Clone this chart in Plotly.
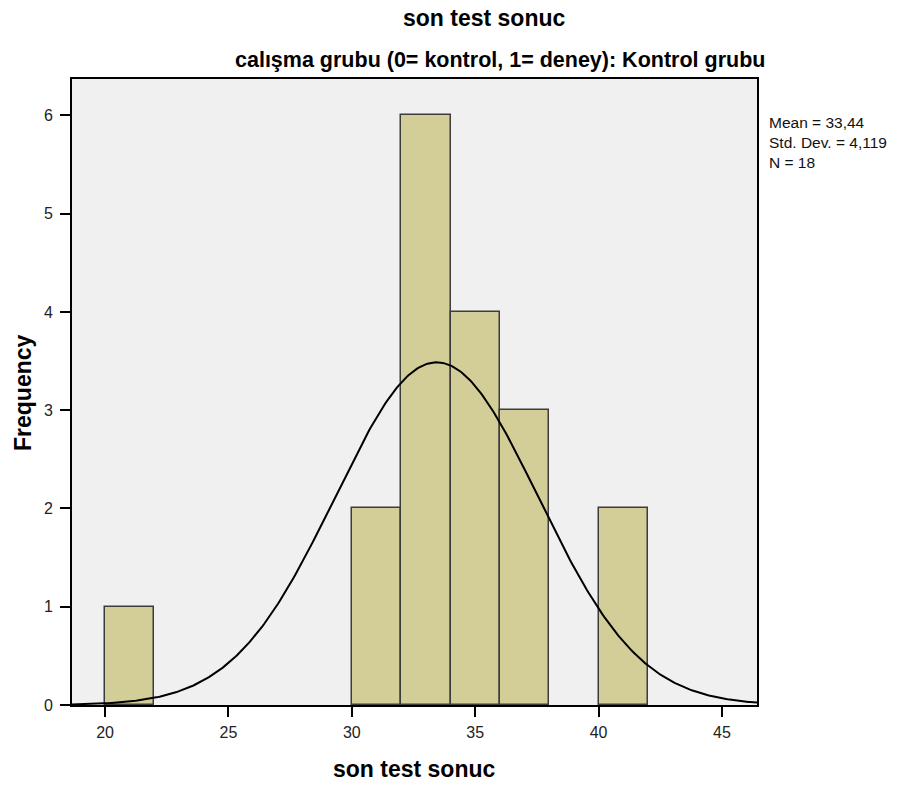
import numpy as np
import plotly.graph_objects as go

# Data
bin_starts = [20, 30, 32, 34, 36, 40]
bin_width = 2
counts = [1, 2, 6, 4, 3, 2]
mean_val = 33.44
std_val = 4.119
n_val = 18
x_ticks = [20, 25, 30, 35, 40, 45]
y_ticks = [0, 1, 2, 3, 4, 5, 6]
x_range = [18.66, 46.42]
y_range = [0, 6.37]

centers = [b + bin_width / 2 for b in bin_starts]

# fitted normal curve (SPSS "display normal curve")
xs = np.linspace(x_range[0], x_range[1], 400)
ys = n_val * bin_width / (std_val * np.sqrt(2 * np.pi)) * np.exp(-0.5 * ((xs - mean_val) / std_val) ** 2)

font = "Liberation Sans, Arial, sans-serif"
W, H = 910, 787
L, R, T, B = 72, 153, 79, 82
PW, PH = W - L - R, H - T - B


def px(xp):
    return (xp - L) / PW


def py(yp):
    return 1 - (yp - T) / PH


fig = go.Figure()
fig.add_trace(go.Bar(
    x=centers, y=counts, width=[bin_width] * len(centers),
    marker=dict(color="#D3CE97", line=dict(color="#3c3c3c", width=1.5)),
    hoverinfo="skip", showlegend=False,
))
fig.add_trace(go.Scatter(
    x=xs, y=ys, mode="lines", line=dict(color="black", width=2),
    hoverinfo="skip", showlegend=False,
))

fig.update_layout(
    width=W, height=H,
    margin=dict(l=L, r=R, t=T, b=B, autoexpand=False),
    paper_bgcolor="white", plot_bgcolor="#F0F0F0",
    font=dict(family=font, color="black", size=16),
    bargap=0,
)

fig.add_annotation(text="<b>son test sonuc</b>", xref="paper", yref="paper",
                   x=px(485), y=py(18), xanchor="center", yanchor="middle",
                   showarrow=False, font=dict(size=23, family=font))
fig.add_annotation(text="<b>calışma grubu (0= kontrol, 1= deney): Kontrol grubu</b>", xref="paper", yref="paper",
                   x=px(500), y=py(60), xanchor="center", yanchor="middle",
                   showarrow=False, font=dict(size=21.5, family=font))
fig.add_annotation(text="<b>son test sonuc</b>", xref="paper", yref="paper",
                   x=px((L + W - R) / 2), y=py(769), xanchor="center", yanchor="middle",
                   showarrow=False, font=dict(size=23, family=font))
fig.add_annotation(text="<b>Frequency</b>", xref="paper", yref="paper", textangle=-90,
                   x=px(23), y=py(393), xanchor="center", yanchor="middle",
                   showarrow=False, font=dict(size=23, family=font))

stat_lines = [
    f"Mean = {str(mean_val).replace('.', ',')}",
    f"Std. Dev. = {str(std_val).replace('.', ',')}",
    f"N = {n_val}",
]
fig.add_annotation(text="<br>".join(stat_lines), xref="paper", yref="paper",
                   x=px(768), y=py(142), xanchor="left", yanchor="middle",
                   align="left", showarrow=False, borderpad=0,
                   font=dict(size=15.5, family=font, color="#111"))

fig.update_xaxes(
    range=x_range, tickvals=x_ticks, ticktext=[str(t) for t in x_ticks],
    ticks="outside", ticklen=10, tickcolor="black", tickwidth=2,
    showline=True, linecolor="black", linewidth=2, mirror=True,
    showgrid=False, zeroline=False, ticklabelstandoff=2,
    tickfont=dict(size=16, color="#222"),
)
fig.update_yaxes(
    range=y_range, tickvals=y_ticks, ticktext=[str(t) for t in y_ticks],
    ticks="outside", ticklen=10, tickcolor="black", tickwidth=2,
    showline=True, linecolor="black", linewidth=2, mirror=True,
    showgrid=False, zeroline=False, ticklabelstandoff=4,
    tickfont=dict(size=16, color="#222"),
)

fig.write_html("out.html", config={"displayModeBar": False},
               post_script="document.body.style.margin='0px';")
